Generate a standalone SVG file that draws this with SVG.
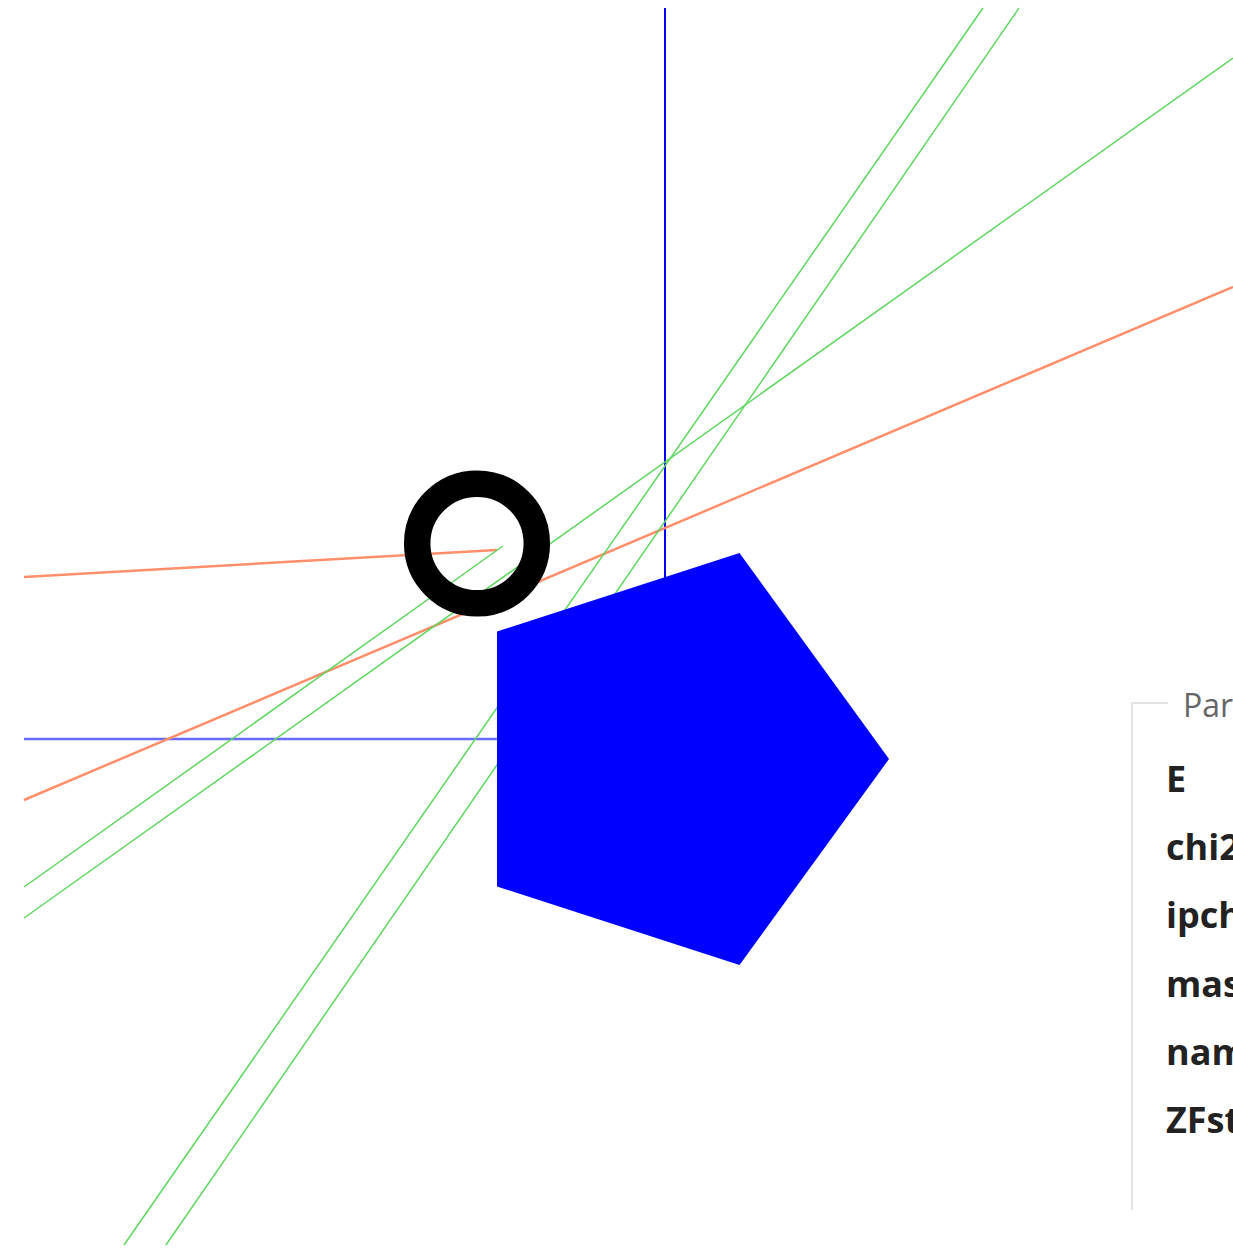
<svg xmlns="http://www.w3.org/2000/svg" width="1233" height="1249" viewBox="0 0 1233 1249">
  <style>
    .g { stroke: #5fd65f; stroke-width: 1.5; fill: none; }
    .o { stroke: #ff8f6b; stroke-width: 2.5; fill: none; }
    .lbl { font-family: "Open Sans", "Liberation Sans", sans-serif; font-weight: bold; font-size: 36px; fill: #222; }
    .ttl { font-family: "Open Sans", "Liberation Sans", sans-serif; font-size: 32px; fill: #666; }
  </style>
  <rect width="1233" height="1249" fill="#fff"/>
  <g id="connectors">
    <line x1="665" y1="8" x2="665" y2="600" stroke="#0000ff" stroke-width="2"/>
    <line x1="24" y1="739" x2="510" y2="739" stroke="#6a6aff" stroke-width="2.5"/>
    <line class="o" x1="24" y1="577" x2="497" y2="550"/>
    <line class="o" x1="24" y1="800" x2="1233" y2="287"/>
    <line class="g" x1="983" y1="8" x2="124" y2="1245"/>
    <line class="g" x1="1019" y1="8" x2="166" y2="1245"/>
    <line class="g" x1="24" y1="918" x2="1233" y2="58"/>
    <line class="g" x1="24" y1="887" x2="503" y2="546"/>
  </g>
  <g id="pentagon">
    <polygon points="889,759 739.5,553 497,631.5 497,886.5 739.5,965" fill="#0000ff"/>
  </g>
  <g id="ring">
    <circle cx="477" cy="543.5" r="59.8" fill="none" stroke="#000" stroke-width="26.5"/>
  </g>
  <g id="panel">
    <polyline points="1168,703 1132,703 1132,1210" fill="none" stroke="#dcdcdc" stroke-width="1.5"/>
    <text class="ttl" x="1183" y="717">Par</text>
    <text class="lbl" x="1166" y="792">E</text>
    <text class="lbl" x="1166" y="860">chi2</text>
    <text class="lbl" x="1166" y="928">ipch</text>
    <text class="lbl" x="1166" y="997">mas</text>
    <text class="lbl" x="1166" y="1065">nam</text>
    <text class="lbl" x="1166" y="1133">ZFst</text>
  </g>
</svg>
